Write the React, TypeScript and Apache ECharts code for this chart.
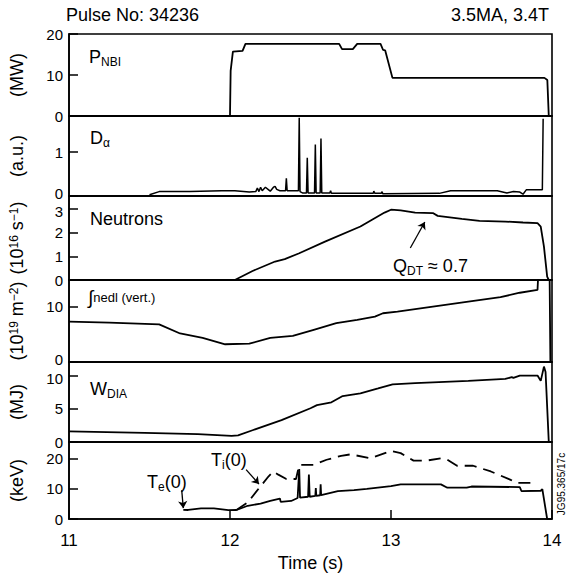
import { useEffect, useRef } from 'react';
import * as echarts from 'echarts';

// ---------------- data ----------------
const timeTicks = [11, 12, 13, 14];

const pnbiTime = [11.0, 12.0, 12.004, 12.018, 12.078, 12.096, 12.678, 12.696, 12.763, 12.79, 12.935, 12.951, 12.964, 13.009, 13.953, 13.971, 13.98, 14.0];
const pnbiPower = [0, 0, 11, 15.7, 15.9, 17.6, 17.6, 16.3, 16.3, 17.6, 17.6, 16.1, 16.0, 9.3, 9.3, 8.8, 0, 0];

const dalphaTime = [11.50, 11.56, 11.75, 11.95, 12.03, 12.12, 12.16, 12.17, 12.18, 12.19, 12.20, 12.22, 12.24, 12.25, 12.27, 12.28, 12.29, 12.31, 12.345, 12.35, 12.355, 12.425, 12.43, 12.435, 12.45, 12.475, 12.48, 12.485, 12.525, 12.53, 12.535, 12.56, 12.565, 12.57, 12.62, 12.625, 12.63, 12.70, 12.89, 12.893, 12.90, 12.94, 12.943, 12.95, 13.30, 13.37, 13.66, 13.72, 13.76, 13.80, 13.82, 13.84, 13.86, 13.94, 13.945];
const dalphaSignal = [0.03, 0.10, 0.10, 0.12, 0.12, 0.09, 0.10, 0.18, 0.10, 0.20, 0.12, 0.20, 0.14, 0.11, 0.20, 0.22, 0.15, 0.12, 0.12, 0.40, 0.12, 0.12, 1.78, 0.10, 0.07, 0.07, 0.87, 0.07, 0.07, 1.17, 0.07, 0.07, 1.31, 0.07, 0.07, 0.12, 0.06, 0.06, 0.06, 0.11, 0.06, 0.06, 0.10, 0.05, 0.06, 0.12, 0.12, 0.07, 0.10, 0.09, 0.04, 0.14, 0.14, 0.14, 1.76];

const neutronTime = [11.0, 12.03, 12.14, 12.28, 12.34, 12.43, 12.59, 12.81, 12.96, 13.0, 13.06, 13.15, 13.26, 13.29, 13.44, 13.55, 13.71, 13.82, 13.91, 13.93, 13.95, 13.97, 13.98, 14.0];
const neutronRate = [0, 0, 0.38, 0.78, 0.88, 1.13, 1.62, 2.26, 2.85, 2.97, 2.94, 2.85, 2.83, 2.71, 2.58, 2.5, 2.47, 2.43, 2.4, 2.26, 1.41, 0.14, 0, 0];

const densityTime = [11.0, 11.25, 11.56, 11.69, 11.83, 11.97, 12.12, 12.25, 12.39, 12.52, 12.66, 12.79, 12.9, 12.95, 13.04, 13.26, 13.48, 13.68, 13.8, 13.91, 13.915, 13.985, 13.99, 14.0];
const densityLine = [7.27, 7.1, 6.8, 5.15, 4.36, 3.2, 3.3, 4.36, 4.7, 5.8, 7.0, 7.6, 8.2, 8.8, 9.1, 10.0, 10.9, 11.7, 12.5, 13.0, 16, 16, 0, 0];

const wdiaTime = [11.0, 11.47, 11.8, 12.01, 12.05, 12.14, 12.32, 12.5, 12.54, 12.63, 12.7, 12.81, 12.92, 13.01, 13.15, 13.48, 13.71, 13.75, 13.76, 13.8, 13.91, 13.93, 13.95, 13.96, 13.98, 14.0];
const wdiaEnergy = [1.62, 1.37, 1.2, 0.92, 1.0, 1.78, 3.3, 5.1, 5.58, 6.0, 6.95, 7.36, 8.1, 8.73, 8.9, 9.24, 9.54, 9.8, 9.7, 10.05, 10.05, 9.24, 11.4, 10.6, 0, 0];

const teTime = [11.71, 11.74, 11.82, 11.9, 11.99, 12.04, 12.11, 12.19, 12.25, 12.31, 12.315, 12.38, 12.42, 12.43, 12.435, 12.485, 12.49, 12.495, 12.53, 12.533, 12.536, 12.56, 12.563, 12.566, 12.67, 12.77, 12.85, 13.0, 13.06, 13.31, 13.35, 13.47, 13.5, 13.8, 13.81, 13.93, 13.94, 13.97, 14.0];
const teKeV = [3.05, 3.0, 3.5, 3.5, 2.95, 3.0, 4.4, 5.1, 6.0, 6.8, 5.7, 6.0, 7.0, 16.6, 7.1, 7.4, 14.8, 7.4, 7.7, 10.3, 7.7, 7.9, 11.5, 7.9, 9.3, 9.6, 10.0, 10.9, 11.5, 11.5, 10.4, 10.4, 10.8, 10.6, 9.3, 9.4, 9.9, 0, 0];

const tiTime = [12.04, 12.11, 12.19, 12.24, 12.27, 12.3, 12.35, 12.41, 12.43, 12.52, 12.6, 12.69, 12.75, 12.87, 13.0, 13.06, 13.14, 13.22, 13.31, 13.35, 13.41, 13.51, 13.62, 13.74, 13.78, 13.87];
const tiKeV = [3.0, 5.5, 10.9, 14.2, 15.8, 14.75, 13.3, 13.3, 18.0, 18.0, 19.7, 21.0, 21.5, 20.2, 22.6, 21.9, 19.4, 19.4, 20.2, 19.7, 17.7, 17.7, 15.8, 13.1, 12.0, 12.0];

// annotation arrows in data coordinates: [tStart, vStart, tEnd, vEnd]
const qdtArrow = [13.12, 1.35, 13.21, 2.45];
const teArrow = [11.70, 9.6, 11.71, 3.6];
const tiArrow = [12.10, 16.4, 12.18, 11.6];

// ---------------- layout ----------------
const FONT = '"Liberation Sans", Arial, Helvetica, sans-serif';
const LEFT = 68;
const RIGHT = 14;
// nudge: which tick labels are pushed up (bottom label) or down (top label) to keep stacked labels apart
const panels = [
  { top: 34, height: 82, max: 20, interval: 10, name: '(MW)', nudgeLow: false, nudgeHigh: false },
  { top: 116, height: 80, max: 1.82, interval: 1, name: '(a.u.)', nudgeLow: true, nudgeHigh: false },
  { top: 196, height: 84, max: 3.55, interval: 1, name: '(10{p|16} s{p|−1})', nudgeLow: false, nudgeHigh: true },
  { top: 280, height: 82, max: 14.8, interval: 10, name: '(10{p|19} m{p|−2})', nudgeLow: true, nudgeHigh: false },
  { top: 362, height: 80, max: 12.1, interval: 5, name: '(MJ)', nudgeLow: false, nudgeHigh: true },
  { top: 442, height: 78, max: 25.6, interval: 10, name: '(keV)', nudgeLow: false, nudgeHigh: false },
];

const zip = (t: number[], v: number[]) => t.map((x, i) => [x, v[i]]);

const mainRich = {
  m: { fontSize: 18, fontFamily: FONT, fill: '#000', lineHeight: 22 },
  s: { fontSize: 12, fontFamily: FONT, fill: '#000', lineHeight: 12, verticalAlign: 'bottom' },
  t: { fontSize: 13, fontFamily: FONT, fill: '#000', lineHeight: 22 },
  i: { fontSize: 19, fontFamily: FONT, fill: '#000', lineHeight: 22 },
};

function label(x: number, y: number, text: string, extra: any = {}) {
  return {
    type: 'text',
    x,
    y,
    silent: true,
    z: 100,
    style: {
      text,
      rich: mainRich,
      fill: '#000',
      font: `18px ${FONT}`,
      align: 'left',
      verticalAlign: 'middle',
      textAlign: 'left',
      textVerticalAlign: 'middle',
      ...extra,
    },
  };
}

function arrowLine(a: number[]) {
  return [
    { coord: [a[0], a[1]], symbol: 'none' },
    { coord: [a[2], a[3]], symbol: 'arrow' },
  ];
}

function buildOption() {
  const last = panels.length - 1;
  const grid = panels.map((p) => ({
    left: LEFT,
    right: RIGHT,
    top: p.top,
    height: p.height,
    show: true,
    borderColor: '#000',
    borderWidth: 1.6,
    backgroundColor: 'transparent',
  }));
  const xAxis = panels.map((_, i) => ({
    type: 'value',
    gridIndex: i,
    min: timeTicks[0],
    max: timeTicks[timeTicks.length - 1],
    interval: 1,
    axisLine: { show: true, lineStyle: { color: '#000', width: 1.6 } },
    axisTick: { show: i === last, inside: true, length: 9, lineStyle: { color: '#000', width: 1.5 } },
    axisLabel: {
      show: i === last,
      fontSize: 17,
      fontFamily: FONT,
      color: '#000',
      margin: 13,
    },
    splitLine: { show: false },
    name: i === last ? 'Time (s)' : '',
    nameLocation: 'middle',
    nameGap: 35,
    nameTextStyle: { fontSize: 18, fontFamily: FONT, color: '#000' },
  }));
  const yAxis = panels.map((p, i) => {
    const topTick = Math.floor(p.max / p.interval + 1e-9) * p.interval;
    return {
      type: 'value',
      gridIndex: i,
      min: 0,
      max: p.max,
      interval: p.interval,
      axisLine: { show: true, lineStyle: { color: '#000', width: 1.6 } },
      axisTick: { show: true, inside: true, length: 9, lineStyle: { color: '#000', width: 1.5 } },
      axisLabel: {
        fontSize: 15,
        fontFamily: FONT,
        color: '#000',
        margin: 6,
        formatter: (v: number) => {
          const k = v / p.interval;
          if (Math.abs(k - Math.round(k)) > 1e-6) return '';
          if (p.nudgeLow && v === 0) return `{lo|${v}}`;
          if (p.nudgeHigh && Math.abs(v - topTick) < 1e-6) return `{hi|${v}}`;
          return String(v);
        },
        rich: {
          lo: { fontSize: 15, fontFamily: FONT, color: '#000', padding: [0, 0, 5, 0] },
          hi: { fontSize: 15, fontFamily: FONT, color: '#000', padding: [5, 0, 0, 0] },
        },
      },
      splitLine: { show: false },
      name: p.name,
      nameLocation: 'middle',
      nameRotate: 90,
      nameGap: 43,
      nameTextStyle: {
        fontSize: 18,
        fontFamily: FONT,
        color: '#000',
        rich: { p: { fontSize: 12, fontFamily: FONT, color: '#000', verticalAlign: 'top', lineHeight: 13 } },
      },
    };
  });

  const lineBase = {
    type: 'line',
    showSymbol: false,
    symbol: 'none',
    silent: true,
    clip: true,
    lineStyle: { color: '#000', width: 1.8 },
  };
  const markBase = {
    silent: true,
    symbolSize: 7,
    label: { show: false },
    lineStyle: { color: '#000', width: 1.3, type: 'solid' },
    itemStyle: { color: '#000' },
  };

  const series = [
    { ...lineBase, name: 'P_NBI', xAxisIndex: 0, yAxisIndex: 0, data: zip(pnbiTime, pnbiPower) },
    { ...lineBase, name: 'D_alpha', xAxisIndex: 1, yAxisIndex: 1, data: zip(dalphaTime, dalphaSignal), lineStyle: { color: '#000', width: 1.5 } },
    {
      ...lineBase,
      name: 'Neutrons',
      xAxisIndex: 2,
      yAxisIndex: 2,
      data: zip(neutronTime, neutronRate),
      markLine: { ...markBase, data: [arrowLine(qdtArrow)] },
    },
    { ...lineBase, name: 'nedl', xAxisIndex: 3, yAxisIndex: 3, data: zip(densityTime, densityLine) },
    { ...lineBase, name: 'W_DIA', xAxisIndex: 4, yAxisIndex: 4, data: zip(wdiaTime, wdiaEnergy) },
    {
      ...lineBase,
      name: 'Te(0)',
      xAxisIndex: 5,
      yAxisIndex: 5,
      data: zip(teTime, teKeV),
      markLine: { ...markBase, data: [arrowLine(teArrow), arrowLine(tiArrow)] },
    },
    {
      ...lineBase,
      name: 'Ti(0)',
      xAxisIndex: 5,
      yAxisIndex: 5,
      data: zip(tiTime, tiKeV),
      lineStyle: { color: '#000', width: 1.8, type: [12, 7] },
    },
  ];

  const graphic = [
    label(66, 15, 'Pulse No: 34236', { font: `18px ${FONT}` }),
    label(549, 15, '3.5MA, 3.4T', { font: `18px ${FONT}`, align: 'right', textAlign: 'right' }),
    label(89, 57, '{m|P}{s|NBI}'),
    label(90, 138, '{m|D}{s|α}'),
    label(90, 219, '{m|Neutrons}'),
    label(88, 297, '{i|∫}{t|nedl (vert.)}'),
    label(90, 389, '{m|W}{s|DIA}'),
    label(147, 482, '{m|T}{s|e}{m|(0)}'),
    label(211, 460, '{m|T}{s|i}{m|(0)}'),
    label(393, 266, '{m|Q}{s|DT}{m| ≈ 0.7}'),
    {
      type: 'text',
      x: 561,
      y: 484,
      rotation: Math.PI / 2,
      silent: true,
      style: {
        text: 'JG95.365/17c',
        font: `10px ${FONT}`,
        fill: '#000',
        align: 'center',
        verticalAlign: 'middle',
        textAlign: 'center',
        textVerticalAlign: 'middle',
      },
    },
  ];

  return {
    animation: false,
    backgroundColor: '#fff',
    grid,
    xAxis,
    yAxis,
    series,
    graphic,
  };
}

export default function App() {
  const ref = useRef<HTMLDivElement>(null);
  useEffect(() => {
    document.body.style.margin = '0';
    const chart = echarts.init(ref.current!, null, { renderer: 'svg' });
    chart.setOption(buildOption() as any);
    return () => chart.dispose();
  }, []);
  return <div ref={ref} style={{ width: 566, height: 573, background: '#fff' }} />;
}
